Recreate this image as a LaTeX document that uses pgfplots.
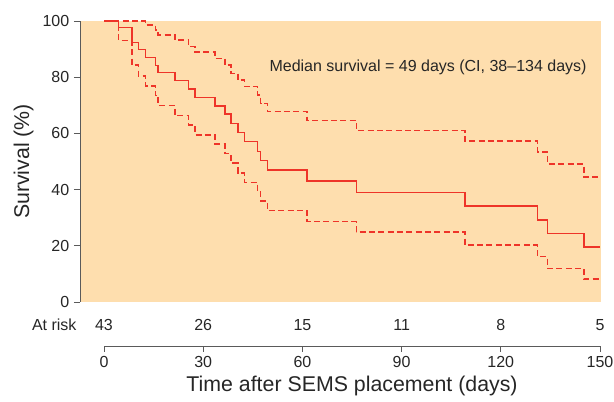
\documentclass[border=0pt]{standalone}
\usepackage{fontspec}
\setmainfont{Liberation Sans}
\usepackage{pgfplots}
\pgfplotsset{compat=1.18}

\definecolor{kmred}{RGB}{238,52,40}
\definecolor{panel}{RGB}{254,222,174}
\definecolor{axisgray}{RGB}{90,90,90}

\begin{document}
\begin{tikzpicture}
\path[use as bounding box] (-78pt,-75pt) rectangle (382.5pt,226.5pt);

% survival curve with confidence band
\begin{axis}[
  at={(0,0)}, anchor=origin,
  x=2.48pt, y=2.1075pt,
  xmin=-7.26, xmax=150.3,
  ymin=0, ymax=100,
  clip=false,
  axis x line=none,
  axis y line*=left,
  axis line style={axisgray, line width=0.6pt},
  ytick={0,20,...,100},
  tick align=outside,
  major tick length=4.5pt,
  ytick style={axisgray, line width=0.6pt},
  tick label style={font=\fontsize{12}{14}\selectfont, text=black!85},
  /pgf/number format/assume math mode=true,
  ylabel={Survival (\%)},
  ylabel style={font=\fontsize{16}{18}\selectfont, text=black!85},
  axis background/.style={fill=panel},
]
\addplot[const plot, kmred, line width=1.1pt] coordinates {
  (0,100)(4.4,97.6)(8.4,92.4)(10.4,89.9)(12.5,87.1)(15.5,84.1)(16.4,81.6)
  (21.5,78.9)(25.5,75.8)(27.5,72.8)(33.6,69.8)(36.6,66.9)(38.4,63.5)
  (40.5,60.3)(42.5,57.1)(46.5,53.6)(47.3,50.3)(49.4,46.9)(61.4,43.0)
  (76.3,39.0)(109.2,34.2)(131.1,29.2)(134.2,24.3)(145.1,19.5)(150,19.5)
};
\addplot[const plot, kmred, line width=1.1pt, dash pattern=on 4.5pt off 2.5pt] coordinates {
  (0,100)(12.5,98.6)(15.5,96.8)(16.4,95.0)(21.5,93.2)(25.5,90.9)(27.5,88.9)
  (33.6,86.7)(36.6,84.3)(38.4,81.4)(40.5,79.0)(42.5,76.6)(46.5,73.7)
  (47.4,70.7)(49.4,67.7)(61.4,64.5)(76.3,61.0)(109.2,57.3)(131.1,53.3)
  (134.2,49.1)(145.1,44.5)(150,44.5)
};
\addplot[const plot, kmred, line width=1.1pt, dash pattern=on 4.5pt off 2.5pt] coordinates {
  (0,100)(4.4,93.0)(8.4,84.3)(10.4,80.5)(12.5,76.9)(15.5,73.4)(16.4,69.9)
  (21.5,66.3)(25.5,63.0)(27.5,59.5)(33.6,56.2)(36.6,52.8)(38.4,49.4)
  (40.5,45.9)(42.5,42.6)(46.5,39.3)(47.4,35.9)(49.4,32.5)(61.4,28.6)
  (76.3,24.9)(109.2,20.2)(131.1,16.1)(134.2,11.9)(145.1,8.2)(150,8.2)
};
\node[font=\fontsize{12}{14}\selectfont, text=black!85] at (axis cs:98,83.6)
  {Median survival = 49 days (CI, 38–134 days)};
% numbers at risk
\begin{scope}[every node/.style={font=\fontsize{12}{14}\selectfont, text=black!85}]
\node[anchor=east] at (axis cs:-6.9,-8.2) {At risk};
\node at (axis cs:0,-8.2) {43};
\node at (axis cs:30,-8.2) {26};
\node at (axis cs:60,-8.2) {15};
\node at (axis cs:90,-8.2) {11};
\node at (axis cs:120,-8.2) {8};
\node at (axis cs:150,-8.2) {5};
\end{scope}
\end{axis}

% time axis below the at-risk row
\begin{axis}[
  at={(0,-33pt)}, anchor=origin,
  x=2.48pt, y=1pt,
  xmin=0, xmax=150,
  ymin=0, ymax=1,
  axis y line=none,
  axis x line*=bottom,
  axis line style={axisgray, line width=0.6pt},
  xtick={0,30,...,150},
  tick align=outside,
  major tick length=4.5pt,
  xtick style={axisgray, line width=0.6pt},
  tick label style={font=\fontsize{12}{14}\selectfont, text=black!85},
  /pgf/number format/assume math mode=true,
  xlabel={Time after SEMS placement (days)},
  xlabel style={font=\fontsize{16}{18}\selectfont, text=black!85, yshift=1pt},
]
\end{axis}
\end{tikzpicture}
\end{document}
